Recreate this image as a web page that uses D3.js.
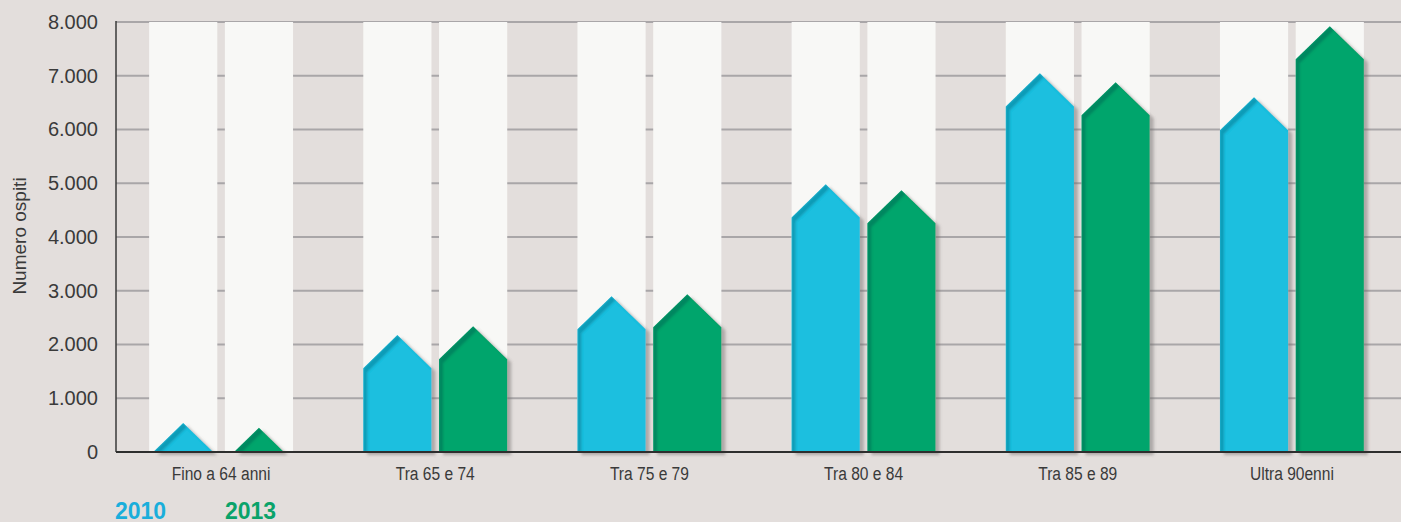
<!DOCTYPE html>
<html lang="it">
<head>
<meta charset="UTF-8">
<title>Numero ospiti per età</title>
<script src="https://cdn.jsdelivr.net/npm/d3@7"></script>
<style>
  html, body { margin: 0; padding: 0; background: #e3dedc; }
  svg { display: block; }
  .tick text { font-family: "Liberation Sans", Arial, sans-serif; fill: #3a3a3a; }
</style>
</head>
<body>
<div id="chart"></div>
<script>
// dati
var categories = ["Fino a 64 anni", "Tra 65 e 74", "Tra 75 e 79", "Tra 80 e 84", "Tra 85 e 89", "Ultra 90enni"];
var years = ["2010", "2013"];
var values2010 = [540, 2175, 2900, 4980, 7045, 6600];
var values2013 = [450, 2340, 2935, 4870, 6880, 7920];
var yTicks = [0, 1000, 2000, 3000, 4000, 5000, 6000, 7000, 8000];

var width = 1401, height = 522;
var mLeft = 116, mTop = 22, mBottom = 452;

var colors = { "2010": "#1fbfdf", "2013": "#00a56c" };
var legendColors = { "2010": "#1aaedb", "2013": "#0aa36a" };

var it = d3.formatLocale({ decimal: ",", thousands: ".", grouping: [3], currency: ["€", ""] });
var fmt = it.format(",d");

var svg = d3.select("#chart").append("svg")
  .attr("width", width)
  .attr("height", height);

// filtro: ombra esterna + bordo scuro interno
var defs = svg.append("defs");
var f = defs.append("filter").attr("id", "house")
  .attr("x", "-20%").attr("y", "-20%").attr("width", "140%").attr("height", "140%");
f.append("feOffset").attr("in", "SourceAlpha").attr("dx", 4).attr("dy", 3).attr("result", "dropOff");
f.append("feGaussianBlur").attr("in", "dropOff").attr("stdDeviation", 1.5).attr("result", "dropBlur");
f.append("feFlood").attr("flood-color", "#6d6868").attr("flood-opacity", 0.45).attr("result", "dropCol");
f.append("feComposite").attr("in", "dropCol").attr("in2", "dropBlur").attr("operator", "in").attr("result", "drop");
f.append("feOffset").attr("in", "SourceAlpha").attr("dx", 4).attr("dy", 4).attr("result", "inOff");
f.append("feComposite").attr("in", "SourceAlpha").attr("in2", "inOff").attr("operator", "out").attr("result", "edge");
f.append("feGaussianBlur").attr("in", "edge").attr("stdDeviation", 0.8).attr("result", "edgeBlur");
f.append("feFlood").attr("flood-color", "#003a4a").attr("flood-opacity", 0.4).attr("result", "edgeCol");
f.append("feComposite").attr("in", "edgeCol").attr("in2", "edgeBlur").attr("operator", "in").attr("result", "edge2");
f.append("feComposite").attr("in", "edge2").attr("in2", "SourceAlpha").attr("operator", "in").attr("result", "inner");
var m = f.append("feMerge");
m.append("feMergeNode").attr("in", "drop");
m.append("feMergeNode").attr("in", "SourceGraphic");
m.append("feMergeNode").attr("in", "inner");

var y = d3.scaleLinear().domain([0, 8000]).range([mBottom, mTop]);

var x0 = d3.scaleBand().domain(categories).range([114, 1399])
  .paddingInner(0.328).paddingOuter(0.164);
var x1 = d3.scaleBand().domain(years).range([0, x0.bandwidth()])
  .paddingInner(0.1).paddingOuter(0);

// griglia
svg.append("g").selectAll("line")
  .data(yTicks.filter(function(d) { return d > 0; }))
  .enter().append("line")
  .attr("x1", mLeft).attr("x2", width)
  .attr("y1", function(d) { return y(d); })
  .attr("y2", function(d) { return y(d); })
  .attr("stroke", "#a9a6a8")
  .attr("stroke-width", 2);

var data = categories.map(function(c, i) {
  return { cat: c, vals: [{ year: "2010", v: values2010[i] }, { year: "2013", v: values2013[i] }] };
});

var groups = svg.append("g").selectAll("g")
  .data(data)
  .enter().append("g")
  .attr("transform", function(d) { return "translate(" + x0(d.cat) + ",0)"; });

// colonne chiare di sfondo
groups.selectAll("rect")
  .data(function(d) { return d.vals; })
  .enter().append("rect")
  .attr("x", function(d) { return x1(d.year); })
  .attr("y", y(8000))
  .attr("width", x1.bandwidth())
  .attr("height", y(0) - y(8000))
  .attr("fill", "#f8f8f6");

// casette
var bw = x1.bandwidth();
var roofH = bw * 0.485;
function house(d) {
  var xa = x1(d.year), xb = xa + bw, xc = xa + bw / 2;
  var py = y(d.v), y0 = y(0);
  if (y0 - py >= roofH) {
    return "M" + xa + "," + y0 + "L" + xa + "," + (py + roofH) + "L" + xc + "," + py +
      "L" + xb + "," + (py + roofH) + "L" + xb + "," + y0 + "Z";
  }
  var half = (y0 - py) * (bw / 2) / roofH;
  return "M" + (xc - half) + "," + y0 + "L" + xc + "," + py + "L" + (xc + half) + "," + y0 + "Z";
}

groups.selectAll("path")
  .data(function(d) { return d.vals; })
  .enter().append("path")
  .attr("d", house)
  .attr("fill", function(d) { return colors[d.year]; })
  .attr("filter", "url(#house)");

// assi
svg.append("line")
  .attr("x1", mLeft).attr("x2", mLeft)
  .attr("y1", mTop - 1).attr("y2", mBottom)
  .attr("stroke", "#3a3a3a").attr("stroke-width", 1.5);
svg.append("line")
  .attr("x1", mLeft).attr("x2", width)
  .attr("y1", mBottom).attr("y2", mBottom)
  .attr("stroke", "#2e2e2e").attr("stroke-width", 2);

var yAxis = d3.axisLeft(y).tickValues(yTicks).tickSize(0).tickPadding(18).tickFormat(fmt);
svg.append("g")
  .attr("transform", "translate(" + mLeft + ",0)")
  .call(yAxis)
  .call(function(g) { g.select(".domain").remove(); })
  .selectAll("text")
  .style("font-size", "20px");

// etichette categorie (compresse in larghezza)
svg.append("g").selectAll("text")
  .data(categories)
  .enter().append("text")
  .attr("transform", function(d) { return "translate(" + (x0(d) + x0.bandwidth() / 2) + ",480) scale(0.82,1)"; })
  .attr("text-anchor", "middle")
  .style("font-family", "'Liberation Sans', Arial, sans-serif")
  .style("font-size", "19px")
  .attr("fill", "#3a3a3a")
  .text(function(d) { return d; });

// titolo asse y
svg.append("text")
  .attr("transform", "translate(26,236) rotate(-90)")
  .attr("text-anchor", "middle")
  .style("font-family", "'Liberation Sans', Arial, sans-serif")
  .style("font-size", "19px")
  .attr("fill", "#3a3a3a")
  .text("Numero ospiti");

// legenda
var legX = { "2010": 115, "2013": 225 };
svg.append("g").selectAll("text")
  .data(years)
  .enter().append("text")
  .attr("x", function(d) { return legX[d]; })
  .attr("y", 519)
  .style("font-family", "'Liberation Sans', Arial, sans-serif")
  .style("font-size", "23px")
  .style("font-weight", "bold")
  .attr("fill", function(d) { return legendColors[d]; })
  .text(function(d) { return d; });
</script>
</body>
</html>
